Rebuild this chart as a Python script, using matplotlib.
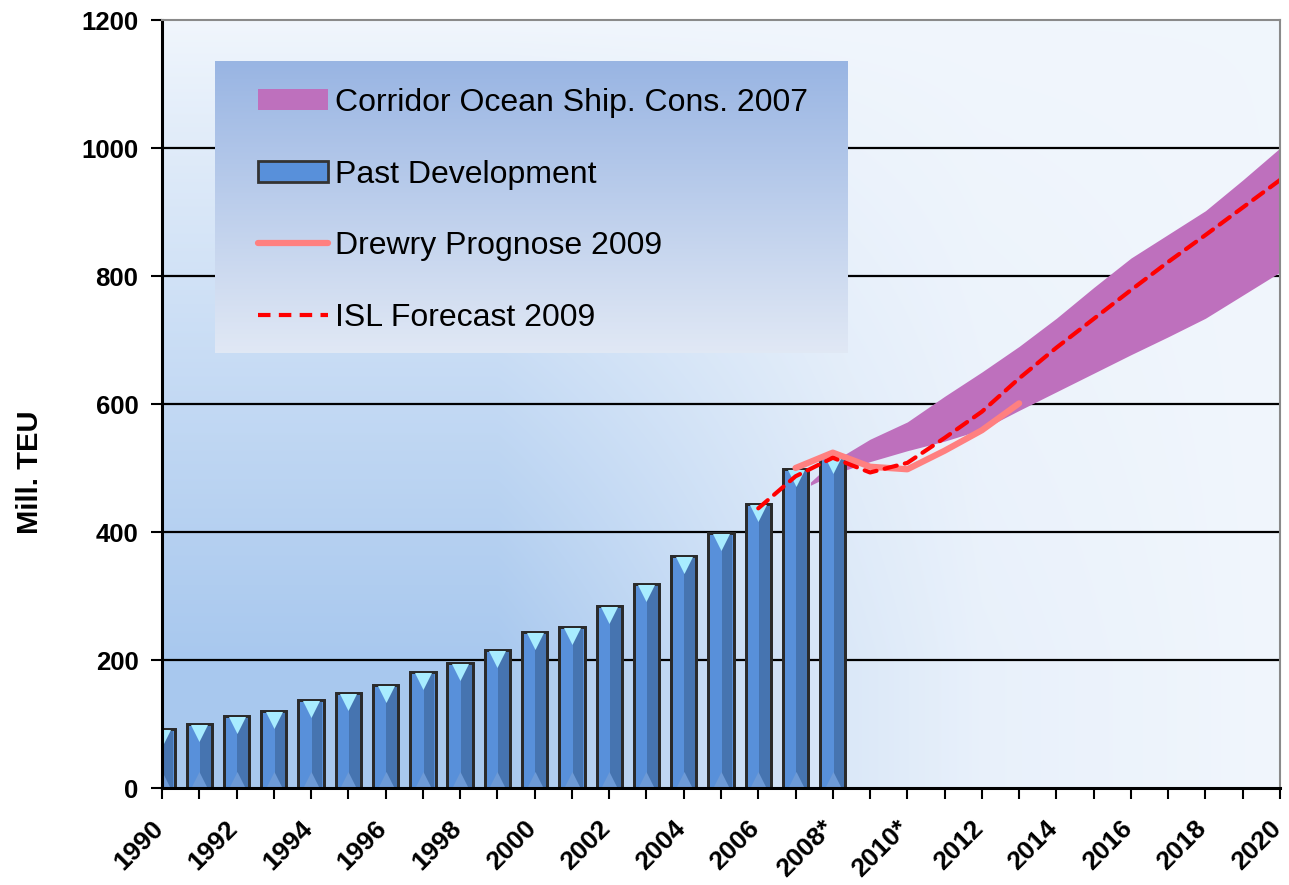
import numpy as np
import matplotlib
matplotlib.use("Agg")
import matplotlib.pyplot as plt
import matplotlib.transforms as mtransforms
from matplotlib.patches import Patch
from matplotlib.lines import Line2D

# ---------------- data ----------------
bar_years = list(range(1990, 2009))
bar_values = [92, 100, 113, 121, 137, 148, 161, 181, 196, 215, 243, 251, 284,
              318, 363, 398, 443, 498, 518]

drewry_years = [2007, 2008, 2009, 2010, 2011, 2012, 2013]
drewry_values = [500, 524, 502, 498, 527, 559, 601]

isl_years = [2006, 2007, 2008, 2009, 2010, 2011, 2012, 2013, 2014, 2015, 2016,
             2017, 2018, 2019, 2020]
isl_values = [437, 487, 516, 493, 508, 547, 588, 640, 688, 733, 778, 822, 864,
              907, 950]

corr_years = [2007.4, 2008, 2009, 2010, 2011, 2012, 2013, 2014, 2015, 2016,
              2017, 2018, 2019, 2020]
corr_low = [473, 490, 510, 527, 542, 560, 590, 619, 648, 677, 705, 734, 770, 806]
corr_high = [478, 510, 545, 572, 612, 650, 690, 734, 782, 828, 865, 902, 950, 1000]

tick_years = list(range(1990, 2021))
tick_labels = {1990: "1990", 1992: "1992", 1994: "1994", 1996: "1996",
               1998: "1998", 2000: "2000", 2002: "2002", 2004: "2004",
               2006: "2006", 2008: "2008*", 2010: "2010*", 2012: "2012",
               2014: "2014", 2016: "2016", 2018: "2018", 2020: "2020"}
y_ticks = [0, 200, 400, 600, 800, 1000, 1200]

legend_labels = ["Corridor Ocean Ship. Cons. 2007", "Past Development",
                 "Drewry Prognose 2009", "ISL Forecast 2009"]

# ---------------- figure ----------------
fig = plt.figure(figsize=(12.89, 8.85), dpi=100)
ax = fig.add_axes([162 / 1289, 1 - 788 / 885, 1118 / 1289, 768 / 885])
ax.set_xlim(1990, 2020)
ax.set_ylim(0, 1200)

# background gradient
nx, ny = 400, 300
xs = np.linspace(1990, 2020, nx)
ys = np.linspace(0, 1200, ny)
X, Y = np.meshgrid(xs, ys)
wy = np.clip((1200 - Y) / 1000.0, 0, 1) ** 0.9
wx = np.interp(X, [1990, 1999, 2008.5, 2012, 2020], [1.0, 1.0, 0.3, 0.12, 0.0])
w = (wy * wx)[..., None]
light = np.array([0.945, 0.965, 0.99])
blue = np.array([0.66, 0.785, 0.935])
img = light * (1 - w) + blue * w
ax.imshow(img, extent=[1990, 2020, 0, 1200], origin="lower", aspect="auto",
          zorder=0, interpolation="bilinear")

# grid
for yv in y_ticks[1:-1]:
    ax.axhline(yv, color="black", lw=1.6, zorder=1)

# corridor
ax.fill_between(corr_years, corr_low, corr_high, color="#be70bd", lw=0, zorder=2)

# bars
bw = 0.68
ax.bar(bar_years, bar_values, width=bw, color="#5890da", edgecolor="#2a2a2a",
       linewidth=2, zorder=3)
ax.bar([y + 0.02 for y in bar_years], bar_values, width=bw * 0.42, align="edge",
       color="#4674b0", linewidth=0, zorder=3.1)
ax.bar(bar_years, bar_values, width=bw, color="none", edgecolor="#2a2a2a",
       linewidth=2, zorder=3.2)
ax.scatter(bar_years, [v - 14 for v in bar_values], marker="v", s=150,
           color="#a8ecff", linewidths=0, zorder=3.3)
ax.scatter(bar_years, [12 for v in bar_values], marker="^", s=150,
           color="#6d9ad6", linewidths=0, zorder=3.3)

# lines
ax.plot(drewry_years, drewry_values, color="#ff8080", lw=4.5,
        solid_capstyle="round", solid_joinstyle="round", zorder=4)
ax.plot(isl_years, isl_values, color="#ff0000", lw=3, ls=(0, (3, 2)),
        dash_capstyle="round", zorder=4.2)

# spines
for s in ["left", "bottom"]:
    ax.spines[s].set_linewidth(2.2)
    ax.spines[s].set_color("black")
for s in ["top", "right"]:
    ax.spines[s].set_linewidth(1.5)
    ax.spines[s].set_color("#8a8a8a")
for s in ax.spines.values():
    s.set_zorder(6)

# ticks
ax.set_yticks(y_ticks)
ax.set_yticklabels([str(v) for v in y_ticks], fontsize=18.5, fontweight="bold",
                   family="Liberation Sans")
ax.set_xticks(tick_years)
ax.set_xticklabels([tick_labels.get(y, "") for y in tick_years], rotation=45,
                   ha="right", rotation_mode="anchor", fontsize=19,
                   fontweight="bold", family="Liberation Sans")
ax.tick_params(axis="both", direction="out", length=8, width=1.5, color="black")
ax.tick_params(axis="x", pad=12)
ax.tick_params(axis="y", pad=9)
shift = mtransforms.ScaledTranslation(-11 / 100, 0, fig.dpi_scale_trans)
for lab in ax.get_xticklabels():
    lab.set_transform(lab.get_transform() + shift)

ax.set_ylabel("Mill. TEU", fontsize=21, fontweight="bold",
              family="Liberation Sans")
ax.yaxis.set_label_coords((44 - 162) / 1118, (788 - 472) / 768)

# legend background gradient
lx0, lx1 = (215 - 162) / 1118, (848 - 162) / 1118
ly0, ly1 = (788 - 353) / 768, (788 - 61) / 768
t = np.linspace(0, 1, 100)[:, None, None]
ctop = np.array([0.60, 0.71, 0.89])
cbot = np.array([0.88, 0.91, 0.96])
limg = cbot * (1 - t) + ctop * t
ax.imshow(limg, extent=[lx0, lx1, ly0, ly1], transform=ax.transAxes,
          origin="lower", aspect="auto", zorder=5, interpolation="bilinear")
ax.set_xlim(1990, 2020)
ax.set_ylim(0, 1200)

handles = [
    Patch(facecolor="#be70bd", edgecolor="none"),
    Patch(facecolor="#5890da", edgecolor="#333333", linewidth=2),
    Line2D([0], [0], color="#ff8080", lw=4.5, solid_capstyle="round"),
    Line2D([0], [0], color="#ff0000", lw=3, ls=(0, (3, 2))),
]
leg = ax.legend(handles, legend_labels, loc="upper left",
                bbox_to_anchor=((258 - 162) / 1118, (788 - 88) / 768),
                prop={"family": "Liberation Sans", "size": 23},
                frameon=False, handlelength=2.2, handleheight=0.65,
                handletextpad=0.2, labelspacing=1.3, borderpad=0,
                borderaxespad=0)
leg.set_zorder(7)

fig.savefig("out.png", dpi=100)
